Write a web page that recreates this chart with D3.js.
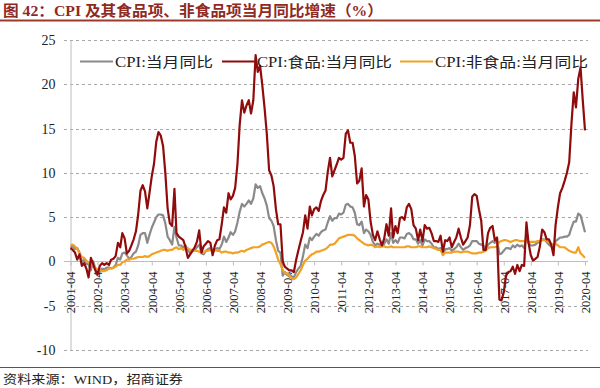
<!DOCTYPE html>
<html><head><meta charset="utf-8">
<script src="https://cdn.jsdelivr.net/npm/d3@7"></script>
<style>body{margin:0;background:#fff}</style>
</head><body><svg id="c" width="600" height="388"></svg>
<script>
// monthly YoY, 2001-04 .. 2020-04
const cpi = [
 1.6,1.7,1.4,1.5,1.0,-0.1,0.2,-0.3,-0.3,
 -1.0,0.0,-0.8,-1.3,-1.1,-0.8,-0.9,-0.7,-0.7,-0.8,-0.7,-0.4,
 0.4,0.2,0.9,1.0,0.7,0.3,0.5,0.9,1.1,1.8,3.0,3.2,
 3.2,2.1,3.0,3.8,4.4,5.0,5.3,5.3,5.2,4.3,2.8,2.4,
 1.9,3.9,2.7,1.8,1.8,1.6,1.8,1.3,0.9,1.2,1.3,1.6,
 1.9,0.9,0.8,1.2,1.4,1.5,1.0,1.3,1.5,1.4,1.9,2.8,
 2.2,2.7,3.3,3.0,3.4,4.4,5.6,6.5,6.2,6.5,6.9,6.5,
 7.1,8.7,8.3,8.5,7.7,7.1,6.3,4.9,4.6,4.0,2.4,1.2,
 1.0,-1.6,-1.2,-1.5,-1.4,-1.7,-1.8,-1.2,-0.8,-0.5,0.6,1.9,
 1.5,2.7,2.4,2.8,3.1,2.9,3.3,3.5,3.6,4.4,5.1,4.6,
 4.9,4.9,5.4,5.3,5.5,6.4,6.5,6.2,6.1,5.5,4.2,4.1,
 4.5,3.2,3.6,3.4,3.0,2.2,1.8,2.0,1.9,1.7,2.0,2.5,
 2.0,3.2,2.1,2.4,2.1,2.7,2.7,2.6,3.1,3.2,3.0,2.5,
 2.5,2.0,2.4,1.8,2.5,2.3,2.3,2.0,1.6,1.6,1.4,1.5,
 0.8,1.4,1.4,1.5,1.2,1.4,1.6,2.0,1.6,1.3,1.5,1.6,
 1.8,2.3,2.3,2.3,2.0,1.9,1.8,1.3,1.9,2.1,2.3,2.1,
 2.5,0.8,0.9,1.2,1.5,1.5,1.4,1.8,1.6,1.9,1.7,1.8,
 1.5,2.9,2.1,1.8,1.8,1.9,2.1,2.3,2.5,2.5,2.2,1.9,
 1.7,1.5,2.3,2.5,2.7,2.7,2.8,2.8,3.0,3.8,4.5,4.5,
 5.4,5.2,4.3,3.3
];
const food = [
 1.5,1.3,1.0,0.2,0.8,-0.5,-0.2,-0.8,-1.8,
 0.4,-0.3,-1.0,-1.5,-0.5,-0.2,-0.4,-0.2,-0.4,0.2,0.3,0.6,
 2.1,1.6,3.2,2.6,0.9,1.2,1.8,2.5,3.4,5.3,8.0,8.6,
 7.9,6.0,7.7,9.6,11.0,13.5,14.6,14.2,13.0,10.0,6.0,4.3,
 4.0,8.2,3.2,2.8,2.6,2.4,1.6,0.4,0.8,1.2,1.6,2.2,
 3.5,1.0,1.7,2.0,2.3,2.1,0.7,1.8,2.4,2.5,4.2,6.1,
 5.5,7.7,7.0,7.4,8.3,11.0,15.4,18.2,16.8,17.6,18.2,16.7,
 18.2,23.3,21.4,22.1,19.9,17.3,14.4,10.3,9.7,8.5,5.9,4.2,
 4.2,0.0,-0.6,-0.8,-1.0,-1.0,-1.2,0.2,1.3,2.3,3.3,5.2,
 3.7,6.2,5.2,5.9,6.1,5.7,6.8,7.5,8.0,10.1,11.7,9.6,
 10.3,11.0,11.7,11.5,11.7,14.4,14.8,13.4,13.4,11.9,8.8,9.1,
 10.5,6.2,7.5,7.0,4.5,3.0,2.4,3.4,2.5,1.8,2.6,4.2,
 2.9,6.0,2.7,4.0,3.2,4.9,5.0,4.7,6.1,6.5,5.9,4.1,
 3.7,2.4,3.6,2.3,4.1,3.7,3.8,3.2,2.3,2.3,2.2,2.9,
 1.1,2.4,2.3,2.7,1.6,2.2,2.7,3.7,2.7,1.9,2.3,2.7,
 4.1,7.3,7.6,7.4,5.9,4.6,1.3,1.3,3.2,3.8,4.0,2.4,
 2.7,-4.3,-4.4,-3.5,-1.6,-1.2,-1.1,-0.6,-1.4,-0.4,-1.1,-0.4,
 -0.5,4.4,2.1,0.7,0.1,0.3,0.5,1.7,3.6,3.3,2.5,2.5,
 1.9,0.7,4.1,6.1,7.7,8.3,9.1,10.0,11.2,15.5,19.1,17.4,
 20.6,21.9,18.3,14.8
];
const nonFood = [
 1.8,1.9,1.7,1.4,0.9,0.5,0.4,0.1,-0.1,
 -0.3,-0.4,-0.7,-0.9,-1.0,-1.1,-1.1,-1.0,-0.8,-0.8,-0.7,-0.6,
 -0.4,-0.4,-0.1,0.0,0.2,0.2,0.3,0.3,0.4,0.5,0.5,0.5,
 0.6,0.5,0.6,0.8,0.9,1.0,1.1,1.2,1.3,1.3,1.2,1.3,
 1.3,1.5,1.6,1.4,1.5,1.3,1.5,1.5,1.3,1.3,1.2,1.2,
 1.1,1.0,1.0,1.2,1.2,1.3,1.3,1.3,1.2,1.2,1.0,1.1,
 1.1,1.0,1.0,0.9,1.0,1.0,1.1,1.2,1.1,1.3,1.4,1.5,
 1.6,1.6,1.6,1.7,1.9,2.0,2.1,2.2,2.1,1.7,1.0,0.2,
 -0.3,-1.0,-1.3,-1.4,-1.6,-1.9,-2.0,-1.8,-1.4,-1.0,-0.4,0.1,
 0.3,0.6,0.8,0.9,1.1,1.1,1.2,1.3,1.4,1.6,1.9,1.9,
 2.0,2.3,2.6,2.7,2.8,2.9,3.0,3.0,3.0,2.9,2.6,2.4,
 2.2,2.0,1.9,1.8,1.9,1.8,1.6,1.7,1.6,1.7,1.7,1.6,
 1.6,1.7,1.6,1.6,1.6,1.6,1.6,1.6,1.7,1.7,1.6,1.6,
 1.6,1.7,1.7,1.6,1.6,1.6,1.7,1.6,1.5,1.4,1.3,1.3,
 0.7,1.0,1.0,1.0,1.0,1.1,1.1,1.1,1.0,1.1,1.1,1.1,
 1.0,0.9,0.9,0.9,1.0,1.0,1.1,1.2,1.5,1.6,1.6,1.6,
 1.7,2.2,2.3,2.4,2.4,2.3,2.2,2.3,2.4,2.4,2.3,2.3,
 2.3,2.3,2.2,2.2,2.2,2.2,2.3,2.3,2.4,2.4,2.3,2.2,
 2.0,1.9,2.0,1.8,1.6,1.6,1.6,1.4,1.2,1.1,1.0,1.0,
 1.6,0.9,0.7,0.4
];
const tickLabels = ["2001-04","2002-04","2003-04","2004-04","2005-04","2006-04","2007-04",
 "2008-04","2009-04","2010-04","2011-04","2012-04","2013-04","2014-04","2015-04","2016-04",
 "2017-04","2018-04","2019-04","2020-04"];
const yTicks = [-10,-5,0,5,10,15,20,25];
const seriesNames = ["CPI:当月同比","CPI:食品:当月同比","CPI:非食品:当月同比"];
const startMonth = "2001-04", endMonth = "2020-04";

const parse = d3.timeParse("%Y-%m");
const months = d3.timeMonth.range(parse(startMonth), d3.timeMonth.offset(parse(endMonth), 1));
const svg = d3.select("#c");
const serif = "'Liberation Serif','Times New Roman','Noto Sans CJK SC',serif";

const x = d3.scaleTime().domain([parse(startMonth), parse(endMonth)]).range([70.5, 585]);
const y = d3.scaleLinear().domain([-10, 25]).range([350, 40]);

// title
svg.append("text").attr("x", 3).attr("y", 16)
  .attr("font-family", serif).attr("font-weight", "bold").attr("font-size", 15)
  .attr("fill", "#8f2a1f").attr("textLength", 380).attr("lengthAdjust", "spacingAndGlyphs")
  .text("图 42：CPI 及其食品项、非食品项当月同比增速（%）");
svg.append("line").attr("x1", 0).attr("x2", 600).attr("y1", 20.5).attr("y2", 20.5)
  .attr("stroke", "#9b3a2c").attr("stroke-width", 2);

// grid
svg.append("g").selectAll("line").data(yTicks.filter(d => d !== 0)).join("line")
  .attr("x1", 64).attr("x2", 588)
  .attr("y1", d => Math.round(y(d)) + 0.5).attr("y2", d => Math.round(y(d)) + 0.5)
  .attr("stroke", "#a8a8a8").attr("stroke-dasharray", "3,3").attr("stroke-width", 1);

// y axis
const yAxis = d3.axisLeft(y).tickValues(yTicks).tickSize(0).tickPadding(15).tickFormat(d => String(d));
const gy = svg.append("g").attr("transform", "translate(70.5,0)").call(yAxis);
gy.select(".domain").attr("stroke", "#bdbdbd");
gy.selectAll("text").attr("font-family", serif).attr("font-size", 14).attr("fill", "#222");

// x axis at 0
const gx = svg.append("g").attr("transform", `translate(0,${Math.round(y(0)) + 0.5})`)
  .call(d3.axisBottom(x).tickValues(tickLabels.map(parse)).tickSize(4).tickFormat(d3.timeFormat("%Y-%m")));
gx.select(".domain").attr("stroke", "#bdbdbd").attr("d", `M64,0H588`);
gx.selectAll(".tick line").attr("stroke", "#bdbdbd");
gx.selectAll("text").attr("font-family", serif).attr("font-size", 12.5).attr("fill", "#222")
  .attr("text-anchor", "end").attr("transform", "rotate(-90)")
  .attr("x", -10).attr("y", 0).attr("dy", "0.35em");

// lines
const colors = ["#8a8a8a", "#900b0b", "#f2a124"];
const series = [cpi, food, nonFood];
const line = d3.line().x((d, i) => x(months[i])).y(d => y(d));
const order = [0, 2, 1];
order.forEach(k => {
  svg.append("path").datum(series[k]).attr("d", line)
    .attr("fill", "none").attr("stroke", colors[k]).attr("stroke-width", 2.2)
    .attr("stroke-linejoin", "round");
});

// legend
const legendPos = [{x1: 80, x2: 113, tx: 115, w: 98}, {x1: 222, x2: 255, tx: 257, w: 135}, {x1: 400, x2: 433, tx: 435, w: 153}];
const lg = svg.append("g");
seriesNames.forEach((name, k) => {
  const p = legendPos[k];
  lg.append("line").attr("x1", p.x1).attr("x2", p.x2).attr("y1", 61.5).attr("y2", 61.5)
    .attr("stroke", colors[k]).attr("stroke-width", 2.2);
  lg.append("text").attr("x", p.tx).attr("y", 66.5).attr("font-family", serif).attr("font-size", 14)
    .attr("fill", "#222").attr("textLength", p.w).attr("lengthAdjust", "spacingAndGlyphs").text(name);
});

// footer
svg.append("line").attr("x1", 0).attr("x2", 600).attr("y1", 367.5).attr("y2", 367.5)
  .attr("stroke", "#9b3a2c").attr("stroke-width", 1);
svg.append("text").attr("x", 3).attr("y", 384).attr("font-family", serif).attr("font-size", 12.5)
  .attr("fill", "#222").attr("textLength", 180).attr("lengthAdjust", "spacingAndGlyphs")
  .text("资料来源：WIND，招商证券");
</script></body></html>
